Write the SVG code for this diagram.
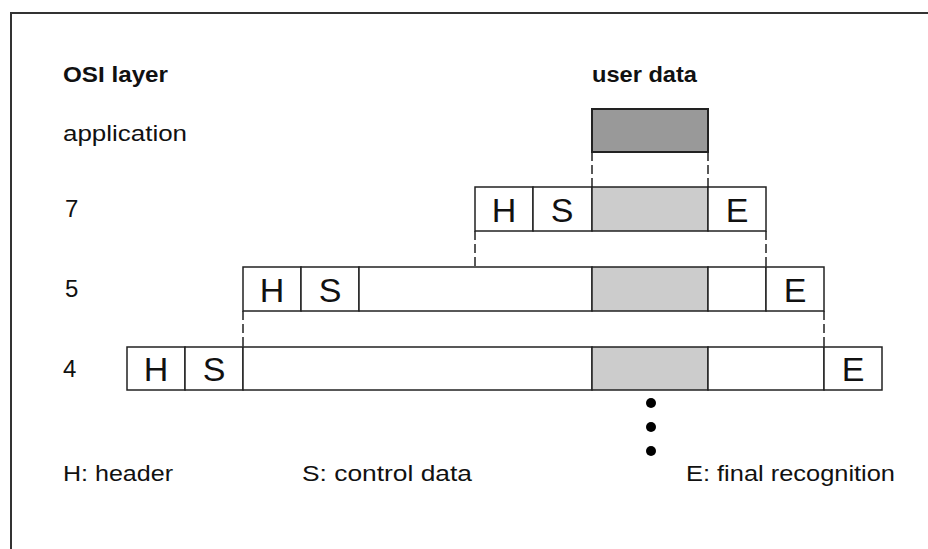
<svg xmlns="http://www.w3.org/2000/svg" width="928" height="549" viewBox="0 0 928 549">
<style>
.t{font-family:"Liberation Sans",Arial,sans-serif;font-size:22px;fill:#111}
.n{font-family:"Liberation Sans",Arial,sans-serif;font-size:24px;fill:#111}
.b{font-weight:bold}
.c{font-family:"Liberation Sans",Arial,sans-serif;font-size:34px;fill:#111;text-anchor:middle}
.box{fill:#fff;stroke:#222;stroke-width:1.5}
.g1{fill:#999;stroke:#222;stroke-width:2}
.g2{fill:#ccc;stroke:#222;stroke-width:1.5}
.d{stroke:#222;stroke-width:1.5;stroke-dasharray:9 4;fill:none}
.frame{stroke:#333;stroke-width:2;fill:none}
</style>
<rect width="928" height="549" fill="#fff"/>
<path class="frame" d="M11,549 V13 H928"/>
<g id="labels">
<text class="t b" x="63" y="82" textLength="105" lengthAdjust="spacingAndGlyphs">OSI layer</text>
<text class="t b" x="592" y="82" textLength="105" lengthAdjust="spacingAndGlyphs">user data</text>
<text class="t" x="63" y="141" textLength="124" lengthAdjust="spacingAndGlyphs">application</text>
<text class="n" x="65" y="217">7</text>
<text class="n" x="65" y="297">5</text>
<text class="n" x="63" y="377">4</text>
<text class="t" x="63" y="481" textLength="110" lengthAdjust="spacingAndGlyphs">H: header</text>
<text class="t" x="302" y="481" textLength="170" lengthAdjust="spacingAndGlyphs">S: control data</text>
<text class="t" x="686" y="481" textLength="209" lengthAdjust="spacingAndGlyphs">E: final recognition</text>
</g>
<g id="userdata">
<rect class="g1" x="592" y="109" width="116" height="43"/>
</g>
<g id="layer7">
<rect class="box" x="475" y="187" width="58" height="44"/>
<rect class="box" x="533" y="187" width="59" height="44"/>
<rect class="g2" x="592" y="187" width="116" height="44"/>
<rect class="box" x="708" y="187" width="58" height="44"/>
<text class="c" x="504" y="222">H</text>
<text class="c" x="562" y="222">S</text>
<text class="c" x="737" y="222">E</text>
</g>
<g id="layer5">
<rect class="box" x="243" y="267" width="58" height="44"/>
<rect class="box" x="301" y="267" width="58" height="44"/>
<rect class="box" x="359" y="267" width="233" height="44"/>
<rect class="g2" x="592" y="267" width="116" height="44"/>
<rect class="box" x="708" y="267" width="58" height="44"/>
<rect class="box" x="766" y="267" width="58" height="44"/>
<text class="c" x="272" y="302">H</text>
<text class="c" x="330" y="302">S</text>
<text class="c" x="795" y="302">E</text>
</g>
<g id="layer4">
<rect class="box" x="127" y="347" width="58" height="43"/>
<rect class="box" x="185" y="347" width="58" height="43"/>
<rect class="box" x="243" y="347" width="349" height="43"/>
<rect class="g2" x="592" y="347" width="116" height="43"/>
<rect class="box" x="708" y="347" width="116" height="43"/>
<rect class="box" x="824" y="347" width="58" height="43"/>
<text class="c" x="156" y="381">H</text>
<text class="c" x="214" y="381">S</text>
<text class="c" x="853" y="381">E</text>
</g>
<g id="connectors">
<line class="d" x1="592" y1="152" x2="592" y2="187"/>
<line class="d" x1="708" y1="152" x2="708" y2="187"/>
<line class="d" x1="475" y1="231" x2="475" y2="267"/>
<line class="d" x1="766" y1="231" x2="766" y2="267"/>
<line class="d" x1="243" y1="311" x2="243" y2="347"/>
<line class="d" x1="824" y1="311" x2="824" y2="347"/>
</g>
<g id="ellipsis" fill="#000">
<circle cx="651" cy="403" r="5"/>
<circle cx="651" cy="427" r="5"/>
<circle cx="651" cy="451" r="5"/>
</g>
</svg>
